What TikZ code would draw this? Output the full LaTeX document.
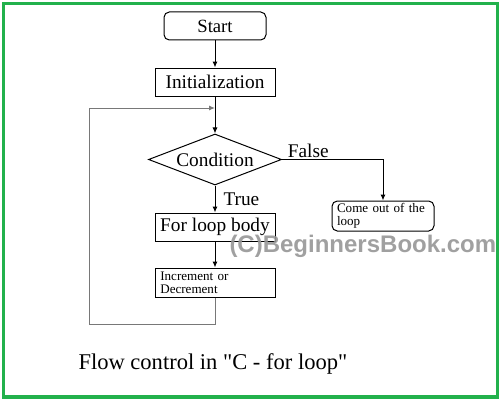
\documentclass[tikz,border=0pt]{standalone}
\usepackage{fontspec}
\setmainfont{Liberation Serif}[Ligatures=TeXOff]
\newfontfamily\wmfont{Liberation Sans}
\usepackage{xcolor}
\usepackage{tikz}
\usetikzlibrary{shapes.geometric,arrows.meta,positioning}
\definecolor{framegreen}{RGB}{34,177,76}
\definecolor{wmgray}{RGB}{150,150,150}
\definecolor{loopgray}{RGB}{120,120,120}

\begin{document}
\begin{tikzpicture}[
  x=0.75pt, y=0.75pt, line width=0.75pt,
  term/.style={draw, rounded corners=4pt, minimum width=76.5pt, minimum height=21pt, inner sep=0pt, font=\fontsize{14}{16}\selectfont},
  proc/.style={draw, minimum width=90pt, minimum height=21pt, inner sep=0pt, font=\fontsize{14.5}{17}\selectfont},
  decision/.style={draw, diamond, aspect=2.6, minimum width=99.75pt, minimum height=38.25pt, inner sep=0pt, font=\fontsize{14.5}{17}\selectfont},
  note/.style={draw, align=left, inner xsep=4pt, inner ysep=0pt, font=\fontsize{9.8}{10}\selectfont},
  lbl/.style={inner sep=1pt, font=\fontsize{14.5}{17}\selectfont},
  arr/.style={-{Latex[length=4.5pt,width=3.75pt]}},
  back/.style={arr, draw=loopgray}
]
\path[use as bounding box] (0,0) rectangle (502,-403);
\draw[framegreen, line width=2.5pt] (3.5,-3.5) rectangle (497.5,-397);

\node[term] (start) at (215,-26) {Start};
\node[proc, below=20.25pt of start] (init) {Initialization};
\node[decision, below=27.75pt of init] (cond) {Condition};
\node[proc, below=20.25pt of cond] (body) {For loop body};
\node[note, below=19.5pt of body, text width=82pt, minimum height=21.75pt] (inc) {Increment or\\Decrement};
\node[note, rounded corners=4pt, text width=69pt, minimum height=22.5pt, inner xsep=3.75pt] (exit) at (383,-216) {Come out of the\\loop};

\coordinate (merge) at (215,-108);
\coordinate (corner) at (89,-108);

\draw[arr] (start) -- (init);
\draw[arr] (init) -- (cond);
\draw[arr] (cond) -- node[lbl, right=5pt] {True} (body);
\draw[arr] (body) -- (inc);
\draw[arr] (cond.east) -| node[lbl, above, pos=0.13] {False} (exit.north);
\draw[back] (inc.south) -- ++(0,-27) -| (corner) -- (merge);

\node[anchor=base west, inner sep=0pt, text=wmgray, opacity=0.9, font=\wmfont\bfseries\fontsize{18}{20}\selectfont] (wm) at (229,-252) {(C)BeginnersBook.com};
\node[anchor=base west, inner sep=0pt, font=\fontsize{16.9}{20}\selectfont] (caption) at (78,-369) {Flow control in "C - for loop"};
\end{tikzpicture}
\end{document}
